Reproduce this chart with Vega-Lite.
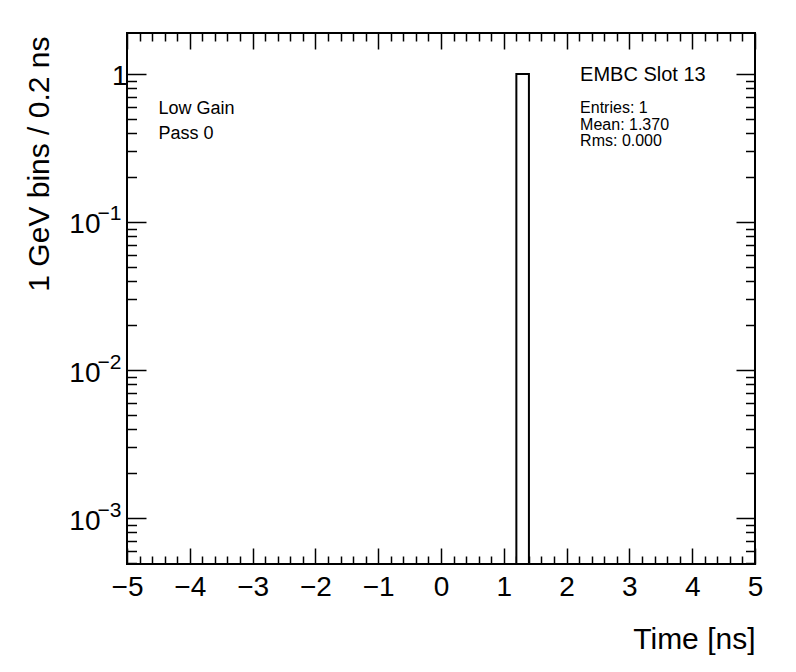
{
  "$schema": "https://vega.github.io/schema/vega-lite/v6.json",
  "width": 628,
  "height": 531,
  "autosize": "none",
  "padding": {"left": 127, "top": 33, "right": 41, "bottom": 108},
  "background": "white",
  "config": {
    "view": {"stroke": "black", "strokeWidth": 2},
    "font": "Liberation Sans",
    "axis": {
      "grid": false,
      "domain": false,
      "labelFont": "Liberation Sans",
      "titleFont": "Liberation Sans",
      "labelColor": "black",
      "titleColor": "black",
      "tickColor": "black",
      "tickWidth": 1.5,
      "labelFlush": false,
      "labelOverlap": false,
      "labelBound": false,
      "titleFontWeight": "normal"
    }
  },
  "data": {"values": [{"t0": 1.2, "t1": 1.4, "entries": 1}]},
  "resolve": {"axis": {"x": "independent", "y": "independent"}},
  "layer": [
    {
      "mark": {"type": "rect", "fill": "white", "stroke": "black", "strokeWidth": 2},
      "encoding": {
        "x": {"field": "t0", "type": "quantitative",
          "scale": {"domain": [-5, 5], "nice": false, "zero": false},
          "axis": {"orient": "bottom", "values": [-5,-4,-3,-2,-1,0,1,2,3,4,5], "ticks": false,
            "labelFontSize": 28, "labelPadding": 31, "labelBaseline": "alphabetic",
            "title": "Time [ns]", "titleFontSize": 30, "titleAnchor": "end", "titleAlign": "right",
            "titleBaseline": "alphabetic", "titleX": 628, "titleY": 84}},
        "x2": {"field": "t1"},
        "y": {"field": "entries", "type": "quantitative",
          "scale": {"type": "log", "domain": [0.000489, 1.892], "nice": false},
          "axis": {"orient": "left", "values": [0.1, 0.01, 0.001], "labelExpr": "'10'", "ticks": false,
            "labelFontSize": 28, "labelPadding": 27, "labelBaseline": "alphabetic", "labelOffset": 11,
            "title": "1 GeV bins / 0.2 ns", "titleFontSize": 30, "titleAngle": -90, "titleAlign": "right",
            "titleBaseline": "alphabetic", "titleX": -79, "titleY": 3}},
        "y2": {"datum": 0.000489}
      }
    },
    {
      "mark": {"type": "point", "opacity": 0},
      "encoding": {
        "x": {"field": "t0", "type": "quantitative",
          "axis": {"orient": "bottom", "values": [-5,-4,-3,-2,-1,0,1,2,3,4,5], "tickSize": -16, "labels": false, "title": null}},
        "y": {"field": "entries", "type": "quantitative",
          "axis": {"orient": "left", "values": [1], "labelExpr": "'1'", "ticks": false,
            "labelFontSize": 28, "labelPadding": 0, "labelBaseline": "alphabetic", "labelOffset": 11, "title": null}}
      }
    },
    {
      "mark": {"type": "point", "opacity": 0},
      "encoding": {
        "x": {"field": "t0", "type": "quantitative",
          "axis": {"orient": "bottom", "values": [-4.8,-4.6,-4.4,-4.2,-3.8,-3.6,-3.4,-3.2,-2.8,-2.6,-2.4,-2.2,-1.8,-1.6,-1.4,-1.2,-0.8,-0.6,-0.4,-0.2,0.2,0.4,0.6,0.8,1.2,1.4,1.6,1.8,2.2,2.4,2.6,2.8,3.2,3.4,3.6,3.8,4.2,4.4,4.6,4.8], "tickSize": -8, "labels": false, "title": null}},
        "y": {"field": "entries", "type": "quantitative",
          "axis": {"orient": "left", "values": [0.1, 0.01, 0.001],
            "labelExpr": "datum.value > 0.05 ? '\u22121' : datum.value > 0.005 ? '\u22122' : '\u22123'",
            "ticks": false, "labelFontSize": 21, "labelPadding": 6, "labelBaseline": "alphabetic", "labelOffset": -2, "title": null}}
      }
    },
    {
      "mark": {"type": "point", "opacity": 0},
      "encoding": {
        "x": {"field": "t0", "type": "quantitative",
          "axis": {"orient": "top", "values": [-5,-4,-3,-2,-1,0,1,2,3,4,5], "tickSize": -16, "labels": false, "title": null}},
        "y": {"field": "entries", "type": "quantitative",
          "axis": {"orient": "left", "values": [1, 0.1, 0.01, 0.001], "tickSize": -19, "labels": false, "title": null}}
      }
    },
    {
      "mark": {"type": "point", "opacity": 0},
      "encoding": {
        "x": {"field": "t0", "type": "quantitative",
          "axis": {"orient": "top", "values": [-4.8,-4.6,-4.4,-4.2,-3.8,-3.6,-3.4,-3.2,-2.8,-2.6,-2.4,-2.2,-1.8,-1.6,-1.4,-1.2,-0.8,-0.6,-0.4,-0.2,0.2,0.4,0.6,0.8,1.2,1.4,1.6,1.8,2.2,2.4,2.6,2.8,3.2,3.4,3.6,3.8,4.2,4.4,4.6,4.8], "tickSize": -8, "labels": false, "title": null}},
        "y": {"field": "entries", "type": "quantitative",
          "axis": {"orient": "left", "values": [0.0005,0.0006,0.0007,0.0008,0.0009,0.002,0.003,0.004,0.005,0.006,0.007,0.008,0.009,0.02,0.03,0.04,0.05,0.06,0.07,0.08,0.09,0.2,0.3,0.4,0.5,0.6,0.7,0.8,0.9], "tickSize": -9.5, "labels": false, "title": null}}
      }
    },
    {
      "mark": {"type": "point", "opacity": 0},
      "encoding": {
        "x": {"field": "t0", "type": "quantitative", "axis": null},
        "y": {"field": "entries", "type": "quantitative",
          "axis": {"orient": "right", "values": [1, 0.1, 0.01, 0.001], "tickSize": -19, "labels": false, "title": null}}
      }
    },
    {
      "mark": {"type": "point", "opacity": 0},
      "encoding": {
        "x": {"field": "t0", "type": "quantitative", "axis": null},
        "y": {"field": "entries", "type": "quantitative",
          "axis": {"orient": "right", "values": [0.0005,0.0006,0.0007,0.0008,0.0009,0.002,0.003,0.004,0.005,0.006,0.007,0.008,0.009,0.02,0.03,0.04,0.05,0.06,0.07,0.08,0.09,0.2,0.3,0.4,0.5,0.6,0.7,0.8,0.9], "tickSize": -9.5, "labels": false, "title": null}}
      }
    },
    {
      "mark": {"type": "text", "text": "Low Gain", "font": "Liberation Sans", "fontSize": 18, "align": "left", "baseline": "alphabetic", "color": "black"},
      "encoding": {
        "x": {"datum": -4.5, "type": "quantitative", "axis": null},
        "y": {"datum": 0.534, "type": "quantitative", "axis": null}
      }
    },
    {
      "mark": {"type": "text", "text": "Pass 0", "font": "Liberation Sans", "fontSize": 18, "align": "left", "baseline": "alphabetic", "color": "black"},
      "encoding": {
        "x": {"datum": -4.5, "type": "quantitative", "axis": null},
        "y": {"datum": 0.362, "type": "quantitative", "axis": null}
      }
    },
    {
      "mark": {"type": "text", "text": "EMBC Slot 13", "font": "Liberation Sans", "fontSize": 20, "align": "left", "baseline": "alphabetic", "color": "black"},
      "encoding": {
        "x": {"datum": 2.215, "type": "quantitative", "axis": null},
        "y": {"datum": 0.901, "type": "quantitative", "axis": null}
      }
    },
    {
      "mark": {"type": "text", "text": "Entries: 1", "font": "Liberation Sans", "fontSize": 16, "align": "left", "baseline": "alphabetic", "color": "black"},
      "encoding": {
        "x": {"datum": 2.215, "type": "quantitative", "axis": null},
        "y": {"datum": 0.541, "type": "quantitative", "axis": null}
      }
    },
    {
      "mark": {"type": "text", "text": "Mean: 1.370", "font": "Liberation Sans", "fontSize": 16, "align": "left", "baseline": "alphabetic", "color": "black"},
      "encoding": {
        "x": {"datum": 2.215, "type": "quantitative", "axis": null},
        "y": {"datum": 0.418, "type": "quantitative", "axis": null}
      }
    },
    {
      "mark": {"type": "text", "text": "Rms: 0.000", "font": "Liberation Sans", "fontSize": 16, "align": "left", "baseline": "alphabetic", "color": "black"},
      "encoding": {
        "x": {"datum": 2.215, "type": "quantitative", "axis": null},
        "y": {"datum": 0.325, "type": "quantitative", "axis": null}
      }
    }
  ]
}
